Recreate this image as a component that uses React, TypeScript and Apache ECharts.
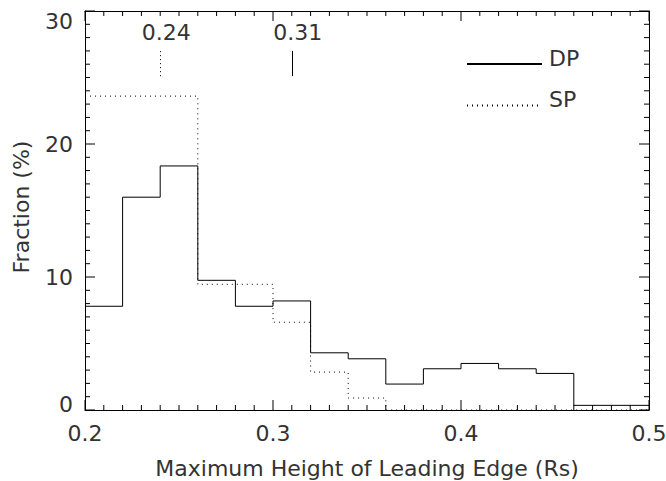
import React, { useEffect, useRef } from "react";
import * as echarts from "echarts";

// Histogram bin edges (Rs) and fractions (%)
const binEdges = [0.2, 0.22, 0.24, 0.26, 0.28, 0.3, 0.32, 0.34, 0.36, 0.38, 0.4, 0.42, 0.44, 0.46, 0.48, 0.5];
const dpValues = [7.8, 16.0, 18.35, 9.75, 7.8, 8.2, 4.3, 3.85, 1.95, 3.1, 3.5, 3.1, 2.75, 0.35, 0.35];
const spValues = [23.6, 23.6, 23.6, 9.45, 9.45, 6.6, 2.85, 0.9, 0, 0, 0, 0, 0, 0, 0];
const seriesNames = ["DP", "SP"];
// Median markers drawn above the histograms
const dpMedian = 0.31;
const spMedian = 0.24;
// Axis ranges and tick steps
const xRange = [0.2, 0.5];
const xInterval = 0.1;
const xMinorStep = 0.01;
const yRange = [0, 30];
const yInterval = 10;
const yMinorStep = 1;

const FONT = "DejaVu Sans";
const TEXT_COLOR = "#333";
const GRID = { left: 85, right: 17, top: 11, bottom: 71 };
const W = 666;
const H = 481;
const MAJOR_LEN = 10;
const MINOR_LEN = 5;

function toSteps(edges: number[], values: number[]): number[][] {
  const pts: number[][] = [];
  for (let i = 0; i < values.length; i++) {
    pts.push([edges[i], values[i]]);
    pts.push([edges[i + 1], values[i]]);
  }
  return pts;
}

// tick positions along an axis: [value, isMajor]
function tickList(range: number[], minor: number, major: number): number[][] {
  const out: number[][] = [];
  const n = Math.round((range[1] - range[0]) / minor);
  const per = Math.round(major / minor);
  for (let i = 0; i <= n; i++) {
    const v = +(range[0] + i * minor).toFixed(6);
    out.push([v, i % per === 0 ? 1 : 0]);
  }
  return out;
}

// inward frame ticks as one broken polyline (lengths converted from px to data units)
function frameTickPath(): any[] {
  const xu = (xRange[1] - xRange[0]) / (W - GRID.left - GRID.right);
  const yu = (yRange[1] - yRange[0]) / (H - GRID.top - GRID.bottom);
  const pts: any[] = [];
  const gap = ["-", "-"];
  for (const [v, major] of tickList(xRange, xMinorStep, xInterval)) {
    const l = (major ? MAJOR_LEN : MINOR_LEN) * yu;
    pts.push([v, yRange[0]], [v, yRange[0] + l], gap);
    pts.push([v, yRange[1]], [v, yRange[1] - l], gap);
  }
  for (const [v, major] of tickList(yRange, yMinorStep, yInterval)) {
    const l = (major ? MAJOR_LEN : MINOR_LEN) * xu;
    pts.push([xRange[0], v], [xRange[0] + l, v], gap);
    pts.push([xRange[1], v], [xRange[1] - l, v], gap);
  }
  return pts;
}

const medianLabel = {
  show: true,
  position: "end",
  distance: 7,
  padding: [0, 0, 0, 12],
  fontFamily: FONT,
  fontSize: 22,
  color: TEXT_COLOR,
};

function medianMarkLine(x: number, dash: any) {
  return {
    silent: true,
    symbol: ["none", "none"],
    lineStyle: { color: "#000", width: 1, type: dash },
    label: { ...medianLabel, formatter: String(x) },
    data: [[{ coord: [x, 25.1] }, { coord: [x, 27.0] }]],
  };
}

function frameAxis(position: string, r: number[], interval: number) {
  return {
    type: "value",
    position,
    min: r[0],
    max: r[1],
    interval,
    axisLine: { show: true, onZero: false, lineStyle: { color: "#000", width: 1 } },
    axisTick: { show: false },
    splitLine: { show: false },
    axisLabel: { show: false },
  };
}

export default function App() {
  const ref = useRef<HTMLDivElement>(null);
  useEffect(() => {
    if (!ref.current) return;
    const chart = echarts.init(ref.current, undefined, { renderer: "svg" });
    const option: any = {
      animation: false,
      backgroundColor: "#fff",
      grid: { ...GRID, containLabel: false, outerBoundsMode: "none" },
      xAxis: [
        {
          ...frameAxis("bottom", xRange, xInterval),
          axisLabel: {
            show: true,
            margin: 12,
            fontFamily: FONT,
            fontSize: 22,
            color: TEXT_COLOR,
            formatter: (v: number) => v.toFixed(1),
          },
          name: "Maximum Height of Leading Edge (Rs)",
          nameLocation: "middle",
          nameGap: 47,
          nameTextStyle: { fontFamily: FONT, fontSize: 22, color: TEXT_COLOR },
        },
        frameAxis("top", xRange, xInterval),
      ],
      yAxis: [
        {
          ...frameAxis("left", yRange, yInterval),
          axisLabel: {
            show: true,
            margin: 12,
            fontFamily: FONT,
            fontSize: 22,
            color: TEXT_COLOR,
            formatter: (v: number) =>
              v === yRange[0] ? `{lo|${v}}` : v === yRange[1] ? `{hi|${v}}` : String(v),
            rich: {
              lo: { fontFamily: FONT, fontSize: 22, color: TEXT_COLOR, padding: [0, 0, 12, 0] },
              hi: { fontFamily: FONT, fontSize: 22, color: TEXT_COLOR, padding: [20, 0, 0, 0] },
            },
          },
        },
        frameAxis("right", yRange, yInterval),
      ],
      legend: {
        data: seriesNames,
        orient: "vertical",
        left: 461,
        top: 42,
        itemWidth: 75,
        itemHeight: 14,
        itemGap: 19,
        itemStyle: { opacity: 0 },
        formatter: "{t|{name}}",
        textStyle: {
          fontFamily: FONT,
          fontSize: 22,
          color: TEXT_COLOR,
          rich: {
            t: { fontFamily: FONT, fontSize: 22, color: TEXT_COLOR, padding: [0, 0, 12, 2] },
          },
        },
      },
      graphic: [
        {
          type: "text",
          x: 21,
          y: 207,
          rotation: Math.PI / 2,
          style: {
            text: "Fraction (%)",
            fontFamily: FONT,
            fontSize: 22,
            fill: TEXT_COLOR,
            align: "center",
            verticalAlign: "middle",
          },
        },
      ],
      series: [
        {
          name: seriesNames[0],
          type: "line",
          data: toSteps(binEdges, dpValues),
          symbol: "none",
          showSymbol: false,
          lineStyle: { color: "#000", width: 1, type: "solid" },
          itemStyle: { color: "#000" },
          z: 3,
          markLine: medianMarkLine(dpMedian, "solid"),
        },
        {
          name: seriesNames[1],
          type: "line",
          data: toSteps(binEdges, spValues),
          symbol: "none",
          showSymbol: false,
          lineStyle: { color: "#000", width: 1, type: [1, 4] },
          itemStyle: { color: "#000" },
          z: 2,
          markLine: medianMarkLine(spMedian, [1, 3]),
        },
        {
          name: "frameTicks",
          type: "line",
          data: frameTickPath(),
          connectNulls: false,
          symbol: "none",
          showSymbol: false,
          silent: true,
          clip: false,
          lineStyle: { color: "#000", width: 1, type: "solid" },
          itemStyle: { color: "#000" },
          z: 4,
        },
      ],
    };
    chart.setOption(option);
    return () => chart.dispose();
  }, []);
  return (
    <div
      ref={ref}
      style={{ position: "fixed", left: 0, top: 0, width: W, height: H, background: "#fff" }}
    />
  );
}
